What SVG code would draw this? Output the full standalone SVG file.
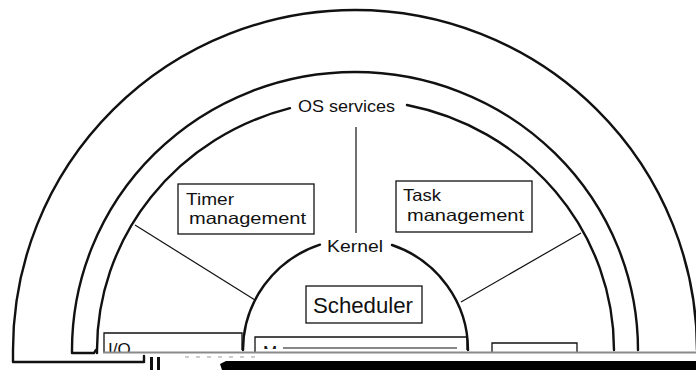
<svg xmlns="http://www.w3.org/2000/svg" width="696" height="370" viewBox="0 0 696 370">
<style>
.arc{fill:none;stroke:#111;stroke-width:2.4;stroke-linecap:round;stroke-linejoin:round}
.box{fill:none;stroke:#111;stroke-width:1.3}
.con{fill:none;stroke:#111;stroke-width:1.2}
.t{font-family:"Liberation Sans",Arial,sans-serif;fill:#111;font-size:17px}
.b{font-size:16.5px}
</style>
<defs>
<clipPath id="cutIO"><rect x="100" y="330" width="150" height="22"/></clipPath>
<clipPath id="cutM"><rect x="255" y="330" width="30" height="19"/></clipPath>
</defs>
<rect width="696" height="370" fill="#fff"/>
<g id="outer-ring">
<path class="arc" d="M144 356 V362 H13 V350 A342 340 0 0 1 697 350"/>
<path class="arc" d="M96 350 L94 353 H72 V350 A283 278 0 0 1 638 350"/>
</g>
<g id="os-services">
<path class="arc" d="M97 353 V350 A258.5 250 0 0 1 290 108.2"/>
<path class="arc" d="M407 105 A258.5 250 0 0 1 614 350"/>
<text class="t" x="298" y="112" textLength="97" lengthAdjust="spacingAndGlyphs">OS services</text>
</g>
<g id="kernel">
<path class="arc" d="M243 350 A112.5 111 0 0 1 320 244.7"/>
<path class="arc" d="M392 245 A112.5 111 0 0 1 468 350"/>
<text class="t" x="327" y="252" textLength="56" lengthAdjust="spacingAndGlyphs">Kernel</text>
</g>
<g id="connectors">
<line class="con" x1="356" y1="127" x2="356" y2="233"/>
<line class="con" x1="135" y1="225" x2="255" y2="300"/>
<line class="con" x1="581" y1="233" x2="461" y2="302"/>
</g>
<g id="timer-management">
<rect class="box" x="178" y="184" width="136" height="50"/>
<text class="t b" x="186" y="205" textLength="48" lengthAdjust="spacingAndGlyphs">Timer</text>
<text class="t b" x="189" y="224" textLength="117" lengthAdjust="spacingAndGlyphs">management</text>
</g>
<g id="task-management">
<rect class="box" x="396" y="181" width="136" height="51"/>
<text class="t b" x="403" y="201" textLength="38" lengthAdjust="spacingAndGlyphs">Task</text>
<text class="t b" x="407" y="221" textLength="117" lengthAdjust="spacingAndGlyphs">management</text>
</g>
<g id="scheduler">
<rect class="box" x="306" y="286" width="116" height="37"/>
<text class="t" x="313" y="313" style="font-size:22px" textLength="100" lengthAdjust="spacingAndGlyphs">Scheduler</text>
</g>
<g id="io">
<path class="box" d="M104 353 V333 H242 V350"/>
<text class="t" x="108" y="355" clip-path="url(#cutIO)">I/O</text>
</g>
<g id="memory">
<path class="box" d="M255 352 V337 H467 V350"/>
<line x1="283" y1="348" x2="457" y2="348" stroke="#111" stroke-width="1"/>
<text class="t" x="263" y="358" clip-path="url(#cutM)">M</text>
</g>
<g id="right-box">
<path class="box" d="M492 352 V343 H577 V352"/>
</g>
<g id="cut-edge">
<line x1="103" y1="352.5" x2="696" y2="352.5" stroke="#8a8a8a" stroke-width="1.8"/>
<line x1="185" y1="357" x2="255" y2="357" stroke="#999" stroke-width="1.2" stroke-dasharray="4 7"/>
<rect x="150" y="357" width="3" height="13" fill="#111"/>
<rect x="157" y="357" width="3" height="13" fill="#111"/>
<path d="M222 370 L220 364 L226 361 L696 361 L696 370 Z" fill="#000"/>
</g>
</svg>
